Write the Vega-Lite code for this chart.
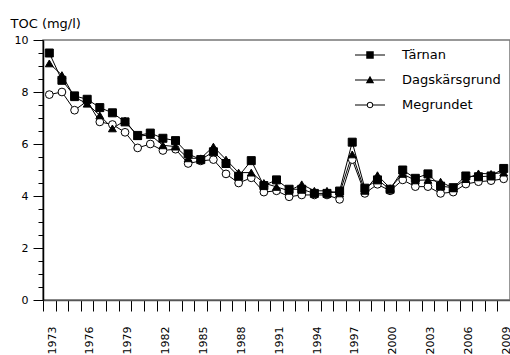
{
  "$schema": "https://vega.github.io/schema/vega-lite/v6.json",
  "autosize": "none",
  "padding": {"left": 43, "top": 40, "right": 0, "bottom": 55},
  "width": 467,
  "height": 260,
  "config": {
    "font": "DejaVu Sans",
    "view": {"stroke": "#777777", "strokeWidth": 1.5},
    "axis": {"labelColor": "black", "tickColor": "black", "domainColor": "black", "labelFont": "DejaVu Sans", "titleFont": "DejaVu Sans", "grid": false}
  },
  "data": {"values": [
    {"year":1973,"site":"Megrundet","toc":7.9},{"year":1974,"site":"Megrundet","toc":8.0},{"year":1975,"site":"Megrundet","toc":7.3},{"year":1976,"site":"Megrundet","toc":7.65},{"year":1977,"site":"Megrundet","toc":6.85},{"year":1978,"site":"Megrundet","toc":6.75},{"year":1979,"site":"Megrundet","toc":6.45},{"year":1980,"site":"Megrundet","toc":5.85},{"year":1981,"site":"Megrundet","toc":6.0},{"year":1982,"site":"Megrundet","toc":5.75},{"year":1983,"site":"Megrundet","toc":5.8},{"year":1984,"site":"Megrundet","toc":5.25},{"year":1985,"site":"Megrundet","toc":5.35},{"year":1986,"site":"Megrundet","toc":5.4},{"year":1987,"site":"Megrundet","toc":4.85},{"year":1988,"site":"Megrundet","toc":4.5},{"year":1989,"site":"Megrundet","toc":4.7},{"year":1990,"site":"Megrundet","toc":4.15},{"year":1991,"site":"Megrundet","toc":4.2},{"year":1992,"site":"Megrundet","toc":3.97},{"year":1993,"site":"Megrundet","toc":4.04},{"year":1994,"site":"Megrundet","toc":4.04},{"year":1995,"site":"Megrundet","toc":4.04},{"year":1996,"site":"Megrundet","toc":3.87},{"year":1997,"site":"Megrundet","toc":5.4},{"year":1998,"site":"Megrundet","toc":4.1},{"year":1999,"site":"Megrundet","toc":4.45},{"year":2000,"site":"Megrundet","toc":4.2},{"year":2001,"site":"Megrundet","toc":4.62},{"year":2002,"site":"Megrundet","toc":4.36},{"year":2003,"site":"Megrundet","toc":4.36},{"year":2004,"site":"Megrundet","toc":4.1},{"year":2005,"site":"Megrundet","toc":4.15},{"year":2006,"site":"Megrundet","toc":4.46},{"year":2007,"site":"Megrundet","toc":4.55},{"year":2008,"site":"Megrundet","toc":4.59},{"year":2009,"site":"Megrundet","toc":4.66},
    {"year":1973,"site":"Dagskärsgrund","toc":9.1},{"year":1974,"site":"Dagskärsgrund","toc":8.65},{"year":1975,"site":"Dagskärsgrund","toc":7.8},{"year":1976,"site":"Dagskärsgrund","toc":7.55},{"year":1977,"site":"Dagskärsgrund","toc":7.1},{"year":1978,"site":"Dagskärsgrund","toc":6.6},{"year":1979,"site":"Dagskärsgrund","toc":6.9},{"year":1980,"site":"Dagskärsgrund","toc":6.3},{"year":1981,"site":"Dagskärsgrund","toc":6.35},{"year":1982,"site":"Dagskärsgrund","toc":5.95},{"year":1983,"site":"Dagskärsgrund","toc":5.9},{"year":1984,"site":"Dagskärsgrund","toc":5.45},{"year":1985,"site":"Dagskärsgrund","toc":5.45},{"year":1986,"site":"Dagskärsgrund","toc":5.9},{"year":1987,"site":"Dagskärsgrund","toc":5.4},{"year":1988,"site":"Dagskärsgrund","toc":4.9},{"year":1989,"site":"Dagskärsgrund","toc":4.9},{"year":1990,"site":"Dagskärsgrund","toc":4.5},{"year":1991,"site":"Dagskärsgrund","toc":4.35},{"year":1992,"site":"Dagskärsgrund","toc":4.2},{"year":1993,"site":"Dagskärsgrund","toc":4.45},{"year":1994,"site":"Dagskärsgrund","toc":4.2},{"year":1995,"site":"Dagskärsgrund","toc":4.2},{"year":1996,"site":"Dagskärsgrund","toc":4.1},{"year":1997,"site":"Dagskärsgrund","toc":5.6},{"year":1998,"site":"Dagskärsgrund","toc":4.2},{"year":1999,"site":"Dagskärsgrund","toc":4.8},{"year":2000,"site":"Dagskärsgrund","toc":4.3},{"year":2001,"site":"Dagskärsgrund","toc":4.85},{"year":2002,"site":"Dagskärsgrund","toc":4.6},{"year":2003,"site":"Dagskärsgrund","toc":4.62},{"year":2004,"site":"Dagskärsgrund","toc":4.55},{"year":2005,"site":"Dagskärsgrund","toc":4.3},{"year":2006,"site":"Dagskärsgrund","toc":4.65},{"year":2007,"site":"Dagskärsgrund","toc":4.87},{"year":2008,"site":"Dagskärsgrund","toc":4.85},{"year":2009,"site":"Dagskärsgrund","toc":4.9},
    {"year":1973,"site":"Tärnan","toc":9.5},{"year":1974,"site":"Tärnan","toc":8.45},{"year":1975,"site":"Tärnan","toc":7.85},{"year":1976,"site":"Tärnan","toc":7.72},{"year":1977,"site":"Tärnan","toc":7.4},{"year":1978,"site":"Tärnan","toc":7.2},{"year":1979,"site":"Tärnan","toc":6.85},{"year":1980,"site":"Tärnan","toc":6.33},{"year":1981,"site":"Tärnan","toc":6.42},{"year":1982,"site":"Tärnan","toc":6.22},{"year":1983,"site":"Tärnan","toc":6.13},{"year":1984,"site":"Tärnan","toc":5.62},{"year":1985,"site":"Tärnan","toc":5.4},{"year":1986,"site":"Tärnan","toc":5.7},{"year":1987,"site":"Tärnan","toc":5.25},{"year":1988,"site":"Tärnan","toc":4.76},{"year":1989,"site":"Tärnan","toc":5.36},{"year":1990,"site":"Tärnan","toc":4.4},{"year":1991,"site":"Tärnan","toc":4.62},{"year":1992,"site":"Tärnan","toc":4.26},{"year":1993,"site":"Tärnan","toc":4.26},{"year":1994,"site":"Tärnan","toc":4.1},{"year":1995,"site":"Tärnan","toc":4.1},{"year":1996,"site":"Tärnan","toc":4.19},{"year":1997,"site":"Tärnan","toc":6.07},{"year":1998,"site":"Tärnan","toc":4.3},{"year":1999,"site":"Tärnan","toc":4.62},{"year":2000,"site":"Tärnan","toc":4.26},{"year":2001,"site":"Tärnan","toc":5.0},{"year":2002,"site":"Tärnan","toc":4.68},{"year":2003,"site":"Tärnan","toc":4.85},{"year":2004,"site":"Tärnan","toc":4.38},{"year":2005,"site":"Tärnan","toc":4.32},{"year":2006,"site":"Tärnan","toc":4.77},{"year":2007,"site":"Tärnan","toc":4.74},{"year":2008,"site":"Tärnan","toc":4.77},{"year":2009,"site":"Tärnan","toc":5.06}
  ]},
  "encoding": {
    "x": {
      "field": "year", "type": "quantitative",
      "scale": {"domain": [1972.5, 2009.5], "nice": false, "zero": false},
      "axis": {
        "title": null,
        "values": [1972.5,1973.5,1974.5,1975.5,1976.5,1977.5,1978.5,1979.5,1980.5,1981.5,1982.5,1983.5,1984.5,1985.5,1986.5,1987.5,1988.5,1989.5,1990.5,1991.5,1992.5,1993.5,1994.5,1995.5,1996.5,1997.5,1998.5,1999.5,2000.5,2001.5,2002.5,2003.5,2004.5,2005.5,2006.5,2007.5,2008.5,2009.5],
        "labelExpr": "(datum.value - 1972.5) % 3 == 0 ? format(datum.value + 0.5, 'd') : ''",
        "labelAngle": 270, "labelAlign": "right", "labelBaseline": "middle",
        "labelOffset": 9, "labelPadding": 15, "labelFontSize": 11,
        "labelOverlap": false, "labelFlush": false, "labelBound": false,
        "tickSize": 11, "tickWidth": 1, "domainWidth": 1.5, "domainColor": "#555555"
      }
    },
    "y": {
      "field": "toc", "type": "quantitative",
      "scale": {"domain": [0, 10], "nice": false, "zero": true},
      "axis": {
        "title": "TOC (mg/l)", "titleAngle": 0, "titleAlign": "left", "titleBaseline": "alphabetic",
        "titleX": -33, "titleY": -13, "titleFontSize": 13, "titleFontWeight": "normal", "titleColor": "black",
        "values": [0,0.5,1,1.5,2,2.5,3,3.5,4,4.5,5,5.5,6,6.5,7,7.5,8,8.5,9,9.5,10],
        "labelExpr": "datum.value % 2 == 0 ? format(datum.value, 'd') : ''",
        "labelFontSize": 11, "labelPadding": 5, "labelOverlap": false, "labelFlush": false,
        "tickSize": {"condition": {"test": "datum.value % 2 == 0", "value": 10}, "value": 5},
        "tickWidth": 1, "domainWidth": 1.5
      }
    }
  },
  "resolve": {"scale": {"shape": "independent"}},
  "layer": [
    {
      "mark": {"type": "line", "color": "black", "strokeWidth": 1},
      "encoding": {"detail": {"field": "site", "type": "nominal"}}
    },
    {
      "mark": {"type": "point", "filled": true, "stroke": "black", "strokeWidth": 1, "opacity": 1},
      "encoding": {
        "shape": {
          "field": "site", "type": "nominal",
          "scale": {"domain": ["Tärnan", "Dagskärsgrund", "Megrundet"], "range": ["square", "triangle-up", "circle"]},
          "legend": null
        },
        "fill": {
          "field": "site", "type": "nominal",
          "scale": {"domain": ["Tärnan", "Dagskärsgrund", "Megrundet"], "range": ["black", "black", "white"]},
          "legend": null
        },
        "size": {
          "field": "site", "type": "nominal",
          "scale": {"domain": ["Tärnan", "Dagskärsgrund", "Megrundet"], "range": [64, 60, 38]},
          "legend": null
        }
      }
    },
    {
      "transform": [{"filter": "false"}],
      "mark": {"type": "point", "filled": true, "color": "black", "opacity": 1, "size": 50},
      "encoding": {
        "shape": {
          "field": "site", "type": "nominal",
          "scale": {"domain": ["Tärnan", "Dagskärsgrund", "Megrundet"], "range": [
            "M-1,-0.035H1V0.035H-1Z M-0.25,-0.25H0.25V0.25H-0.25Z",
            "M-1,-0.035H1V0.035H-1Z M0,-0.29L0.28,0.21H-0.28Z",
            "M-1,-0.035H-0.21V0.035H-1Z M0.21,-0.035H1V0.035H0.21Z M0.22,0L0.1905,0.11L0.11,0.1905L0,0.22L-0.11,0.1905L-0.1905,0.11L-0.22,0L-0.1905,-0.11L-0.11,-0.1905L0,-0.22L0.11,-0.1905L0.1905,-0.11Z M0.15,0L0.13,-0.075L0.075,-0.13L0,-0.15L-0.075,-0.13L-0.13,-0.075L-0.15,0L-0.13,0.075L-0.075,0.13L0,0.15L0.075,0.13L0.13,0.075Z"
          ]},
          "legend": {
            "title": null, "orient": "none", "legendX": 312, "legendY": 5, "padding": 0,
            "symbolSize": 900, "symbolStrokeWidth": 0, "symbolFillColor": "black", "symbolOpacity": 1,
            "clipHeight": 20, "rowPadding": 5,
            "labelFontSize": 13, "labelFont": "DejaVu Sans", "labelColor": "black", "labelOffset": 17
          }
        }
      }
    }
  ]
}
